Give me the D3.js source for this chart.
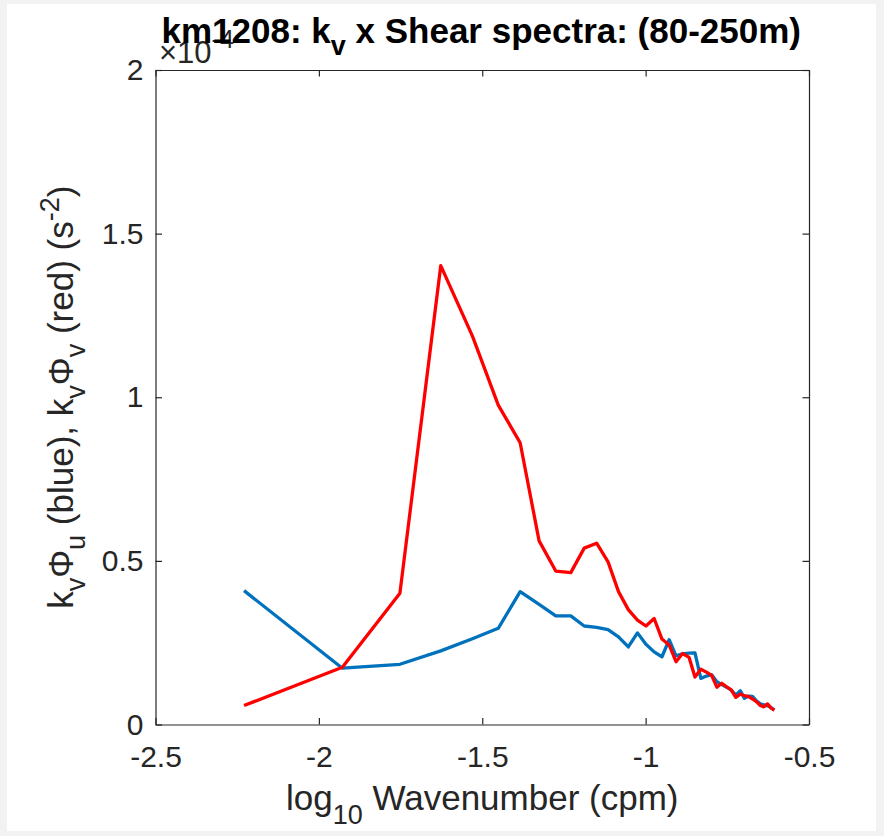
<!DOCTYPE html>
<html>
<head>
<meta charset="utf-8">
<script src="https://cdn.jsdelivr.net/npm/d3@7"></script>
<style>
  body { margin: 0; background: #f2f2f2; }
  svg { display: block; }
</style>
</head>
<body>
<div id="chart"></div>
<script>
// log10 wavenumber (cpm), one entry per spectral bin
const logK = [
  -2.229, -1.928, -1.752, -1.627, -1.530, -1.451, -1.384, -1.326, -1.275, -1.229,
  -1.188, -1.150, -1.115, -1.083, -1.053, -1.025, -0.999, -0.974, -0.950, -0.928,
  -0.907, -0.887, -0.867, -0.849, -0.831, -0.814, -0.798, -0.782, -0.767, -0.752,
  -0.738, -0.724, -0.710, -0.698, -0.685, -0.673, -0.661, -0.649, -0.638, -0.627,
  -0.616, -0.606
];
// k_v * Phi_u (blue), in units of 1e-4 s^-2
const kvPhiU = [
  0.409, 0.172, 0.184, 0.225, 0.262, 0.294, 0.406, 0.367, 0.332, 0.332,
  0.301, 0.297, 0.290, 0.268, 0.237, 0.280, 0.245, 0.222, 0.207, 0.259,
  0.210, 0.216, 0.218, 0.219, 0.141, 0.148, 0.152, 0.131, 0.122, 0.114,
  0.105, 0.090, 0.103, 0.080, 0.087, 0.086, 0.072, 0.063, 0.060, 0.057,
  0.052, 0.044
];
// k_v * Phi_v (red), in units of 1e-4 s^-2
const kvPhiV = [
  0.058, 0.175, 0.401, 1.402, 1.187, 0.976, 0.861, 0.561, 0.469, 0.464,
  0.539, 0.554, 0.497, 0.406, 0.351, 0.319, 0.301, 0.324, 0.261, 0.243,
  0.192, 0.217, 0.205, 0.145, 0.169, 0.160, 0.150, 0.114, 0.126, 0.115,
  0.106, 0.083, 0.093, 0.088, 0.085, 0.078, 0.070, 0.058, 0.054, 0.063,
  0.050, 0.044
];
const xTicks = [-2.5, -2, -1.5, -1, -0.5];
const yTicks = [0, 0.5, 1, 1.5, 2];

const width = 884;
const height = 836;
const axL = 155.5, axR = 809, axT = 70, axB = 724.5;
const font = "'Liberation Sans', Arial, Helvetica, sans-serif";
const axisColor = "#262626";

const svg = d3.create("svg")
    .attr("width", width)
    .attr("height", height)
    .style("font-family", font);

// white figure area
svg.append("rect")
    .attr("x", 7).attr("y", 4)
    .attr("width", 869).attr("height", 827)
    .attr("fill", "#fff");

const x = d3.scaleLinear().domain([-2.5, -0.5]).range([axL, axR]);
const y = d3.scaleLinear().domain([0, 2]).range([axB, axT]);

const fmt = d => String(d);

// axes (ticks point inward, box on)
const gx = svg.append("g")
    .attr("transform", `translate(0,${axB})`)
    .call(d3.axisBottom(x).tickValues(xTicks).tickFormat(fmt)
        .tickSizeInner(-6.5).tickSizeOuter(0).tickPadding(21));
const gxTop = svg.append("g")
    .attr("transform", `translate(0,${axT})`)
    .call(d3.axisTop(x).tickValues(xTicks).tickFormat("")
        .tickSizeInner(-6.5).tickSizeOuter(0));
const gy = svg.append("g")
    .attr("transform", `translate(${axL},0)`)
    .call(d3.axisLeft(y).tickValues(yTicks).tickFormat(fmt)
        .tickSizeInner(-6.5).tickSizeOuter(0).tickPadding(12));
const gyRight = svg.append("g")
    .attr("transform", `translate(${axR},0)`)
    .call(d3.axisRight(y).tickValues(yTicks).tickFormat("")
        .tickSizeInner(-6.5).tickSizeOuter(0));

[gx, gxTop, gy, gyRight].forEach(g => {
  g.select(".domain").attr("stroke", axisColor).attr("stroke-width", 1.2);
  g.selectAll(".tick line").attr("stroke", axisColor).attr("stroke-width", 1.2);
  g.selectAll(".tick text")
      .attr("fill", axisColor)
      .attr("font-size", 30)
      .attr("font-family", font);
});

// data lines
const line = d3.line()
    .x((d, i) => x(logK[i]))
    .y(d => y(d));

svg.append("path")
    .datum(kvPhiU)
    .attr("fill", "none")
    .attr("stroke", "#0072BD")
    .attr("stroke-width", 3.3)
    .attr("stroke-linejoin", "round")
    .attr("d", line);

svg.append("path")
    .datum(kvPhiV)
    .attr("fill", "none")
    .attr("stroke", "#FF0000")
    .attr("stroke-width", 3.3)
    .attr("stroke-linejoin", "round")
    .attr("d", line);

// exponent label
const expo = svg.append("text")
    .attr("x", 159).attr("y", 63)
    .attr("fill", axisColor)
    .attr("font-size", 31);
expo.append("tspan").text("\u00d710");
expo.append("tspan").attr("dy", -15).attr("font-size", 25).text("-4");

// title
const title = svg.append("text")
    .attr("x", (axL + axR) / 2 - 1).attr("y", 43)
    .attr("text-anchor", "middle")
    .attr("font-weight", "bold")
    .attr("font-size", 35)
    .attr("fill", "#000");
title.append("tspan").text("km1208: k");
title.append("tspan").attr("dy", 12).attr("font-size", 27).text("v");
title.append("tspan").attr("dy", -12).text(" x Shear spectra: (80-250m)");

// x label
const xl = svg.append("text")
    .attr("x", (axL + axR) / 2).attr("y", 810)
    .attr("text-anchor", "middle")
    .attr("font-size", 35)
    .attr("fill", axisColor);
xl.append("tspan").text("log");
xl.append("tspan").attr("dy", 14).attr("font-size", 27).text("10");
xl.append("tspan").attr("dy", -14).text(" Wavenumber (cpm)");

// y label
const yl = svg.append("text")
    .attr("transform", `translate(73,${(axT + axB) / 2}) rotate(-90)`)
    .attr("text-anchor", "middle")
    .attr("font-size", 35)
    .attr("fill", axisColor);
yl.append("tspan").text("k");
yl.append("tspan").attr("dy", 12).attr("font-size", 27).text("v");
yl.append("tspan").attr("dy", -12).text("\u03a6");
yl.append("tspan").attr("dy", 12).attr("font-size", 27).text("u");
yl.append("tspan").attr("dy", -12).text(" (blue), k");
yl.append("tspan").attr("dy", 12).attr("font-size", 27).text("v");
yl.append("tspan").attr("dy", -12).text("\u03a6");
yl.append("tspan").attr("dy", 12).attr("font-size", 27).text("v");
yl.append("tspan").attr("dy", -12).text(" (red) (s");
yl.append("tspan").attr("dy", -14).attr("font-size", 27).text("-2");
yl.append("tspan").attr("dy", 14).text(")");

document.getElementById("chart").appendChild(svg.node());
</script>
</body>
</html>
